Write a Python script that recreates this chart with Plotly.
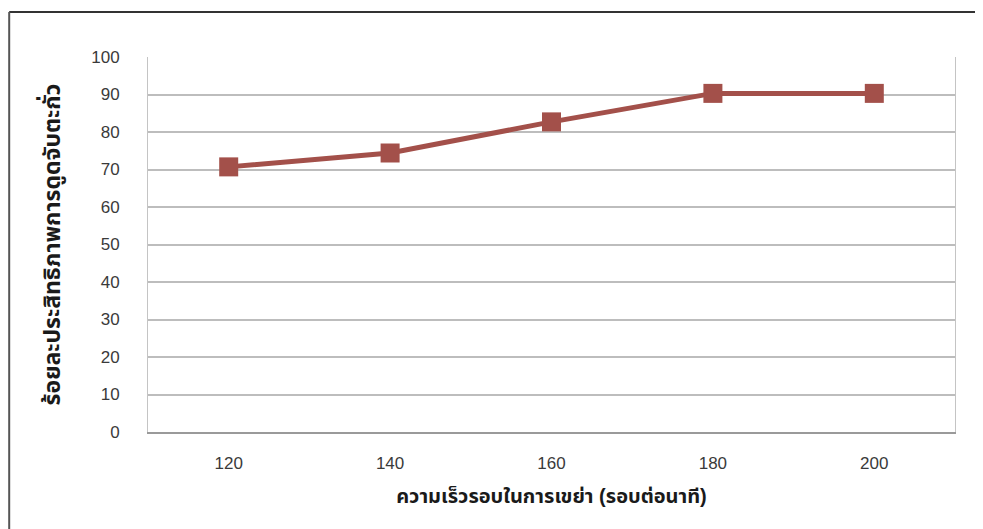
import plotly.graph_objects as go

# shaking speed (rpm) vs lead adsorption efficiency (%)
speed = ['120', '140', '160', '180', '200']
efficiency = [70.7, 74.4, 82.7, 90.3, 90.3]
y_ticks = [0, 10, 20, 30, 40, 50, 60, 70, 80, 90, 100]

line_color = '#a3504a'
grid_color = '#bdbdbd'

fig = go.Figure()
fig.add_trace(go.Scatter(
    x=speed, y=efficiency, mode='lines+markers',
    line=dict(color=line_color, width=5),
    marker=dict(symbol='square', size=19, color=line_color),
    showlegend=False,
))

font_main = 'Liberation Sans Narrow, Liberation Sans, Noto Sans Thai, sans-serif'

# page body has an 8px margin, so the figure is sized to fit inside the window
fig.update_layout(
    width=975, height=521,
    margin=dict(l=140, r=28, t=49, b=97),
    paper_bgcolor='white', plot_bgcolor='white',
    font=dict(family=font_main, color='#333333', size=17),
    xaxis=dict(
        type='category', range=[-0.5, 4.5],
        showgrid=False, zeroline=False,
        showline=True, linecolor='#9a9a9a', linewidth=2, mirror=False,
        ticks='', ticklabelstandoff=15,
        tickfont=dict(size=17, color='#3a3a3a'),
        title=dict(text='<b>ความเร็วรอบในการเขย่า (รอบต่อนาที)</b>', standoff=17,
                   font=dict(size=20, color='#1a1a1a')),
    ),
    yaxis=dict(
        range=[0, 100], tickvals=y_ticks,
        showgrid=True, gridcolor=grid_color, gridwidth=2,
        zeroline=False, showline=True, linecolor='#c4c4c4', linewidth=1, mirror=True,
        ticks='', ticklabelstandoff=24,
        tickfont=dict(size=17, color='#3a3a3a'),
        title=dict(text='<b>ร้อยละประสิทธิภาพการดูดจับตะกั่ว</b>', standoff=24,
                   font=dict(size=23, color='#1a1a1a')),
    ),
)

# outer frame of the scanned chart (top and left edges)
fig.add_shape(type='line', xref='paper', yref='paper', x0=-0.172, x1=1.04, y0=1.12, y1=1.12,
              line=dict(color='#333333', width=2))
fig.add_shape(type='line', xref='paper', yref='paper', x0=-0.172, x1=-0.172, y0=-0.26, y1=1.12,
              line=dict(color='#555555', width=2))

fig.write_html('out.html')
